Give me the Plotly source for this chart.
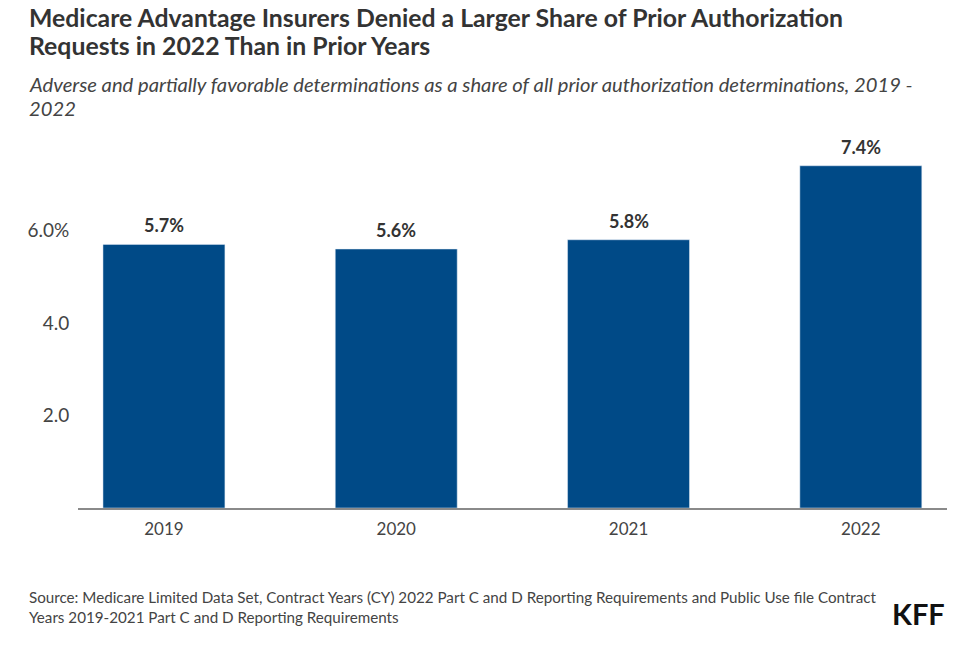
import plotly.graph_objects as go

# Data
years = ["2019", "2020", "2021", "2022"]
denial_share = [5.7, 5.6, 5.8, 7.4]
bar_labels = ["5.7%", "5.6%", "5.8%", "7.4%"]
y_tick_vals = [2, 4, 6]
y_tick_text = ["2.0", "4.0", "6.0%"]

title_lines = ["Medicare Advantage Insurers Denied a Larger Share of Prior Authorization",
               "Requests in 2022 Than in Prior Years"]
subtitle_lines = ["Adverse and partially favorable determinations as a share of all prior "
                  "authorization determinations, 2019 -",
                  "2022"]
source_lines = ["Source: Medicare Limited Data Set, Contract Years (CY) 2022 Part C and D Reporting "
                "Requirements and Public Use file Contract",
                "Years 2019-2021 Part C and D Reporting Requirements"]

FONT = "Lato"
BAR_COLOR = "#004A87"

L, R, T, B = 78, 13, 138, 143

fig = go.Figure(
    go.Bar(
        x=list(range(len(years))),
        y=denial_share,
        width=0.525,
        marker_color=BAR_COLOR,
        hoverinfo="y",
    )
)

# value labels above bars
for i, (v, lab) in enumerate(zip(denial_share, bar_labels)):
    fig.add_annotation(x=i, y=v, text="<b>" + lab + "</b>", showarrow=False,
                       yanchor="middle", yshift=19,
                       font=dict(family=FONT, size=18, color="#333333"))

fig.update_layout(
    width=960,
    height=651,
    plot_bgcolor="white",
    paper_bgcolor="white",
    margin=dict(l=L, r=R, t=T, b=B),
    showlegend=False,
    font=dict(family=FONT, color="#444444"),
)

fig.update_xaxes(
    range=[-0.37, 3.371],
    tickvals=list(range(len(years))),
    ticktext=years,
    tickfont=dict(size=17, color="#444444"),
    showgrid=False,
    showline=True,
    linecolor="#8a8a8a",
    linewidth=1.5,
    ticks="outside",
    ticklen=5,
    tickcolor="rgba(0,0,0,0)",
)

fig.update_yaxes(
    range=[0, 8],
    tickvals=y_tick_vals,
    ticktext=y_tick_text,
    tickfont=dict(size=19, color="#444444"),
    showgrid=False,
    zeroline=False,
    showline=False,
    ticks="outside",
    ticklen=4,
    tickcolor="rgba(0,0,0,0)",
)


def add_text_line(text, y_center, size, color, xshift=-51, xanchor="left", x=0):
    # y_center is in figure pixels from the top of the paper
    fig.add_annotation(text=text, xref="paper", yref="paper", x=x, y=1,
                       xanchor=xanchor, yanchor="middle",
                       xshift=xshift, yshift=T - y_center,
                       showarrow=False, align="left",
                       font=dict(family=FONT, size=size, color=color))


add_text_line("<b>" + title_lines[0] + "</b>", 17, 24.8, "#333333")
add_text_line("<b>" + title_lines[1] + "</b>", 45, 24.8, "#333333")
add_text_line("<i>" + subtitle_lines[0] + "</i>", 84, 20.2, "#444444")
add_text_line("<i>" + subtitle_lines[1] + "</i>", 108, 20.2, "#444444")
add_text_line(source_lines[0], 597, 15.2, "#444444")
add_text_line(source_lines[1], 617, 15.2, "#444444")
add_text_line("<b>KFF</b>", 613, 29, "#111111", xshift=0, xanchor="right", x=1)

# drop the default page margin so the figure sits at the window's top-left corner
fig.write_html("out.html", config={"displayModeBar": False},
               post_script="document.body.style.margin = '0';")
